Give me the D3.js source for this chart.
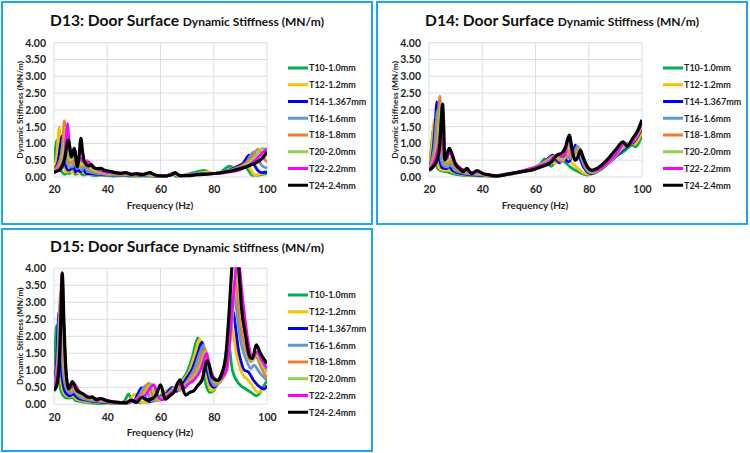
<!DOCTYPE html>
<html>
<head>
<meta charset="utf-8">
<script src="https://cdn.jsdelivr.net/npm/d3@7"></script>
<style>
  body { margin: 0; background: #fff; }
  svg { display: block; font-family: Lato, "Open Sans", sans-serif; }
</style>
</head>
<body>
<script>
const freqTicks = [20, 40, 60, 80, 100];
const stiffTicks = [0, 0.5, 1, 1.5, 2, 2.5, 3, 3.5, 4];
const seriesNames = ["T10-1.0mm", "T12-1.2mm", "T14-1.367mm", "T16-1.6mm", "T18-1.8mm", "T20-2.0mm", "T22-2.2mm", "T24-2.4mm"];
const seriesColors = ["#00B050", "#FFC000", "#0000FF", "#5B9BD5", "#ED7D31", "#92D050", "#FF00FF", "#000000"];

// [frequency Hz, stiffness MN/m]
const d13 = [
  [[20,0.3],[20.5,0.8],[21,1.1],[21.5,0.7],[22,0.3],[23,0.15],[24,0.08],[25,0.12],[26,0.1],[27,0.2],[28,0.08],[29.5,0.12],[31,0.06],[33,0.08],[35,0.04],[38,0.05],[42,0.03],[46,0.04],[50,0.02],[54,0.03],[58,0.01],[62,0.02],[64.5,0.08],[66,0.02],[70,0.08],[73.5,0.15],[76.5,0.2],[79,0.1],[82,0.12],[86,0.32],[88,0.25],[91.5,0.32],[93,0.2],[94.5,0.05],[97,0.06],[100,0.1]],
  [[20,0.25],[21,0.6],[22,1.48],[22.6,0.8],[23.5,0.3],[25,0.15],[26,0.2],[27,0.12],[28,0.25],[29,0.1],[30.5,0.18],[32,0.08],[35,0.07],[38,0.06],[42,0.04],[46,0.05],[50,0.03],[54,0.04],[58,0.02],[62,0.03],[65,0.09],[67,0.03],[71,0.07],[75,0.12],[78,0.15],[80,0.1],[84,0.15],[88,0.3],[92,0.42],[94,0.2],[95.5,0.05],[97,0.08],[100,0.15]],
  [[20,0.2],[21.5,0.45],[22.5,1.0],[23,1.22],[23.6,0.7],[24.5,0.3],[25.5,0.2],[26.5,0.25],[27.3,0.35],[28,0.15],[29,0.22],[30,0.15],[31,0.25],[32,0.1],[35,0.09],[38,0.07],[42,0.05],[46,0.06],[50,0.04],[54,0.05],[58,0.03],[62,0.03],[65.5,0.1],[67.5,0.03],[71,0.06],[75,0.1],[80,0.1],[84,0.15],[88,0.28],[91,0.4],[93.3,0.65],[95,0.4],[96.5,0.2],[98,0.13],[100,0.15]],
  [[20,0.2],[21.5,0.35],[23,0.8],[23.5,1.15],[24.1,0.8],[25,0.4],[26,0.3],[27,0.3],[27.8,0.5],[28.5,0.25],[29.5,0.3],[30.5,0.2],[31.5,0.35],[32.5,0.18],[35,0.12],[38,0.09],[42,0.06],[46,0.07],[50,0.05],[54,0.06],[58,0.03],[62,0.04],[65.5,0.11],[67.5,0.04],[71,0.06],[75,0.09],[80,0.1],[84,0.15],[88,0.25],[92,0.4],[95,0.75],[96.5,0.55],[98,0.35],[99.5,0.28],[100,0.3]],
  [[20,0.2],[22,0.4],[23.3,1.0],[23.9,1.67],[24.5,1.0],[25.3,0.5],[26.3,0.4],[27.3,0.6],[28,0.35],[29,0.4],[30,0.3],[31,0.3],[32,0.45],[33,0.25],[35,0.17],[38,0.12],[42,0.08],[46,0.09],[50,0.06],[54,0.07],[58,0.04],[62,0.04],[65.5,0.12],[67.5,0.04],[71,0.06],[75,0.08],[80,0.1],[85,0.15],[90,0.3],[94,0.55],[96.5,0.82],[98,0.7],[99.3,0.5],[100,0.45]],
  [[20,0.18],[22,0.3],[23.8,0.9],[24.5,1.5],[25,1.0],[25.8,0.55],[26.5,0.5],[27.6,0.7],[28.5,0.45],[29.5,0.5],[30.5,0.4],[31.5,0.38],[32.5,0.5],[33.5,0.3],[35,0.2],[38,0.15],[42,0.1],[46,0.1],[50,0.07],[54,0.08],[58,0.04],[62,0.04],[65.5,0.12],[67.5,0.04],[71,0.06],[75,0.08],[80,0.1],[85,0.14],[90,0.25],[95,0.55],[98.3,0.85],[99.3,0.8],[100,0.7]],
  [[20,0.16],[22,0.25],[24,0.6],[24.6,1.2],[25.1,1.6],[25.6,1.1],[26.3,0.6],[27,0.65],[27.8,0.8],[28.6,0.5],[29.6,0.6],[30.5,0.5],[31.5,0.45],[33,0.45],[34,0.33],[36,0.25],[38,0.18],[42,0.12],[46,0.12],[50,0.08],[54,0.09],[56,0.12],[58,0.05],[62,0.04],[65.5,0.12],[67.5,0.04],[71,0.06],[75,0.08],[80,0.1],[85,0.14],[90,0.22],[95,0.45],[98,0.7],[100,0.85]],
  [[20,0.13],[21,0.17],[22,0.2],[23,0.3],[24,0.55],[25.4,1.1],[26.6,0.6],[27.6,0.85],[28.8,0.3],[29.4,0.6],[30.1,1.15],[30.8,0.7],[31.5,0.45],[33,0.33],[34,0.38],[35,0.28],[36.5,0.25],[37.5,0.26],[39,0.2],[41,0.17],[43,0.13],[45,0.11],[47,0.13],[49,0.08],[51,0.1],[53,0.07],[56,0.13],[58,0.06],[61,0.03],[64,0.06],[65.5,0.13],[67,0.05],[70,0.04],[74,0.07],[78,0.09],[82,0.12],[86,0.17],[90,0.25],[93,0.33],[96,0.43],[98.5,0.58],[100,0.75]]
];

const d14 = [
  [[20,0.3],[20.8,0.8],[21.6,1.4],[22.2,0.7],[23,0.3],[24,0.2],[25.5,0.17],[27,0.15],[28,0.12],[30,0.08],[33,0.05],[36,0.04],[40,0.03],[44,0.02],[48,0.05],[52,0.1],[56,0.18],[60,0.3],[62,0.4],[63.5,0.55],[64.5,0.45],[65.8,0.32],[67.5,0.45],[69.5,0.6],[71,0.45],[73,0.3],[75,0.2],[77,0.12],[79.5,0.06],[82,0.12],[86,0.35],[90,0.6],[93,0.75],[96.5,0.95],[97.5,0.9],[100,1.25]],
  [[20,0.28],[21,0.8],[22,1.7],[22.6,0.9],[23.4,0.35],[24.5,0.22],[26,0.2],[27.5,0.2],[29,0.14],[31,0.1],[34,0.06],[37,0.05],[41,0.03],[45,0.02],[49,0.06],[53,0.12],[57,0.2],[61,0.32],[63,0.42],[65,0.58],[66.3,0.45],[67.5,0.4],[69,0.52],[70.5,0.65],[72,0.5],[74,0.4],[76,0.25],[78,0.12],[80,0.08],[83,0.15],[87,0.4],[91,0.7],[94,0.9],[96,1.0],[97,0.98],[100,1.35]],
  [[20,0.25],[21.5,0.8],[22.5,1.8],[22.9,2.24],[23.4,1.4],[24,0.5],[25,0.27],[26.5,0.25],[27.5,0.3],[29,0.18],[31,0.12],[34,0.08],[37,0.06],[41,0.04],[45,0.03],[49,0.07],[53,0.13],[57,0.21],[61,0.33],[64,0.5],[66.5,0.65],[68,0.5],[69,0.42],[70.5,0.6],[71.5,0.5],[72.5,0.45],[74,0.7],[75,0.95],[76.5,0.6],[78,0.3],[80,0.12],[81,0.1],[84,0.2],[88,0.45],[92,0.75],[95,0.95],[97,1.05],[100,1.45]],
  [[20,0.25],[22,0.9],[23.3,2.0],[23.8,1.3],[24.5,0.55],[25.5,0.33],[27,0.3],[28,0.38],[29.5,0.22],[31.5,0.15],[34,0.1],[37,0.08],[41,0.05],[45,0.03],[49,0.08],[53,0.14],[57,0.22],[61,0.33],[64,0.48],[66.8,0.62],[68.5,0.52],[70,0.45],[71.5,0.65],[73,0.55],[74.5,0.7],[75.7,0.92],[77,0.6],[78.5,0.3],[80.5,0.13],[81.5,0.12],[84,0.22],[88,0.48],[92,0.8],[95,0.98],[97,1.08],[100,1.5]],
  [[20,0.25],[22.5,0.9],[23.6,2.0],[24.1,2.41],[24.6,1.4],[25.3,0.6],[26.3,0.38],[27.3,0.4],[28.3,0.48],[30,0.27],[32,0.18],[34.5,0.13],[37.5,0.1],[41,0.06],[45,0.04],[49,0.08],[53,0.14],[57,0.22],[61,0.33],[64.5,0.5],[67.5,0.62],[69,0.5],[70.5,0.48],[72,0.8],[73.3,0.6],[75,0.7],[76.3,0.88],[77.5,0.6],[79,0.3],[81,0.15],[82,0.15],[85,0.28],[89,0.55],[92.5,0.85],[95,1.0],[97,1.1],[100,1.5]],
  [[20,0.23],[23,0.9],[24.1,1.9],[24.5,2.2],[25,1.3],[25.7,0.6],[26.6,0.45],[27.5,0.5],[28.5,0.58],[30,0.35],[32,0.22],[34.5,0.16],[37.5,0.12],[41,0.07],[45,0.04],[49,0.09],[53,0.14],[57,0.23],[61,0.33],[65,0.5],[68,0.6],[69.5,0.55],[70.5,0.52],[72.3,1.0],[73.6,0.65],[75.5,0.65],[76.5,0.85],[78,0.55],[79.5,0.3],[81.3,0.17],[82.5,0.17],[85.5,0.3],[89.5,0.58],[93,0.9],[95,1.0],[97,1.12],[100,1.55]],
  [[20,0.22],[23.5,0.9],[24.3,1.4],[24.6,1.65],[25.1,1.2],[25.8,0.55],[26.8,0.55],[27.6,0.75],[28.5,0.65],[30,0.42],[32,0.25],[34,0.2],[36,0.13],[38,0.15],[41,0.08],[45,0.04],[49,0.09],[53,0.14],[57,0.22],[61,0.32],[65,0.45],[68.5,0.65],[70.3,0.6],[71,0.65],[72.5,1.2],[74,0.6],[75.5,0.55],[76.8,0.8],[78.3,0.5],[80,0.25],[81.5,0.18],[83,0.2],[86,0.35],[90,0.65],[93.5,1.0],[95,0.95],[97.5,1.2],[100,1.6]],
  [[20,0.2],[21.5,0.3],[23,0.5],[24,0.9],[24.6,1.7],[25.1,2.17],[25.6,1.3],[25.9,0.5],[26.5,0.6],[27.6,0.85],[28.6,0.7],[29.8,0.4],[31.5,0.25],[32.9,0.16],[34.2,0.26],[36,0.1],[38,0.19],[40.4,0.1],[43,0.06],[45.4,0.03],[48,0.06],[50.5,0.1],[55,0.16],[59.2,0.22],[62,0.3],[64.2,0.36],[66,0.45],[68,0.65],[70,0.72],[71.3,0.9],[72.7,1.25],[73.8,0.8],[74.8,0.5],[76,0.6],[76.8,0.8],[77.8,0.6],[79.5,0.3],[81.2,0.2],[83,0.25],[86.8,0.5],[90,0.8],[92.9,1.05],[94.4,0.92],[96.5,1.15],[98.5,1.4],[100,1.7]]
];

const d15 = [
  [[20,0.9],[20.5,1.8],[21,2.31],[21.5,1.4],[22.3,0.5],[23.5,0.25],[25,0.18],[27,0.2],[28,0.12],[30,0.08],[33,0.05],[36,0.03],[40,0.02],[44,0.02],[46.5,0.1],[48,0.3],[49.5,0.08],[52,0.05],[56,0.12],[60,0.25],[62.5,0.4],[64,0.35],[66,0.45],[68,0.7],[70,0.95],[72,1.4],[74,1.95],[75.5,1.3],[77,0.6],[78.5,0.35],[80,0.4],[81.5,0.7],[83.5,1.0],[85.5,1.8],[87,1.0],[89.5,0.6],[92,0.45],[94,0.35],[96,0.25],[97,0.3],[98.5,0.5],[100,0.7]],
  [[20,0.75],[21,1.3],[21.5,1.75],[22,1.3],[22.8,0.6],[24,0.3],[25.5,0.22],[27,0.25],[28.5,0.15],[31,0.1],[34,0.07],[37,0.05],[41,0.03],[45,0.02],[48,0.1],[50.5,0.3],[52,0.08],[55,0.05],[58,0.15],[61,0.28],[63.5,0.45],[65,0.35],[67,0.5],[69,0.75],[71,1.0],[73,1.5],[74.7,1.92],[76.2,1.3],[78,0.6],[79.2,0.4],[82,0.7],[84.5,1.2],[86.2,2.35],[89,1.3],[91,0.85],[92.5,0.75],[94.5,0.55],[96.5,0.35],[98,0.4],[100,0.55]],
  [[20,0.6],[21,1.3],[21.9,2.75],[22.4,1.8],[23,0.8],[24.3,0.35],[26,0.25],[27.2,0.3],[29,0.18],[32,0.12],[35,0.08],[38,0.06],[42,0.04],[46,0.02],[50,0.1],[53,0.49],[54.5,0.15],[56,0.07],[59,0.18],[62,0.3],[64.5,0.5],[66,0.38],[68,0.55],[70,0.8],[72,1.05],[74,1.5],[75.6,1.83],[77,1.2],[78.8,0.6],[80,0.5],[82.5,0.75],[85.5,1.6],[86.9,2.8],[89.5,1.5],[91.5,1.0],[93,0.95],[95,0.7],[97.5,0.5],[99,0.45],[100,0.55]],
  [[20,0.55],[21.3,1.3],[22.3,3.0],[22.8,2.0],[23.5,0.9],[24.8,0.42],[26.3,0.32],[27.3,0.38],[29.5,0.22],[32,0.15],[35,0.1],[38,0.08],[42,0.05],[46,0.03],[51,0.15],[54.5,0.55],[55.8,0.2],[57,0.08],[60,0.2],[63,0.32],[65.5,0.52],[67,0.4],[69,0.58],[71,0.8],[73,1.1],[74.7,1.5],[76.2,1.75],[77.5,1.2],[79.3,0.65],[80.5,0.55],[83.5,0.9],[86,2.0],[87.5,3.2],[90,1.9],[92.5,1.25],[94,1.05],[95,1.15],[97.5,0.9],[100,0.7]],
  [[20,0.5],[21.5,1.3],[22.5,3.3],[23,2.3],[23.8,1.0],[25,0.5],[26.4,0.38],[27.4,0.45],[29.5,0.27],[32,0.18],[35,0.13],[38,0.1],[42,0.06],[46,0.03],[52,0.2],[55.7,0.62],[57,0.22],[58.5,0.1],[61,0.22],[64,0.35],[66,0.55],[67.5,0.42],[69.5,0.6],[72,0.85],[74,1.1],[75.5,1.45],[76.8,1.63],[78,1.2],[79.8,0.7],[81,0.6],[84,0.85],[86.5,2.2],[88,3.65],[90,2.3],[92.5,1.5],[94,1.25],[95.8,1.4],[98,1.05],[100,0.75]],
  [[20,0.45],[21.7,1.4],[22.8,3.6],[23.3,2.5],[24,1.1],[25.2,0.55],[26.5,0.45],[27.5,0.52],[29.5,0.32],[32,0.22],[35,0.16],[38,0.12],[42,0.07],[46,0.04],[53,0.22],[56.5,0.6],[58,0.25],[59.5,0.12],[62,0.25],[64.5,0.38],[66.5,0.6],[68,0.45],[70,0.6],[72.5,0.8],[74.5,1.05],[76,1.35],[77,1.55],[78.3,1.15],[80,0.72],[81,0.65],[84.5,0.9],[87,2.6],[88.6,3.9],[90.5,2.6],[93,1.65],[94.5,1.3],[96.3,1.45],[98,1.2],[100,0.95]],
  [[20,0.42],[22,1.5],[23.1,3.88],[23.6,2.5],[24.3,1.1],[25.5,0.5],[26.6,0.5],[27.5,0.6],[29.5,0.38],[32,0.25],[34.5,0.19],[37.5,0.15],[42,0.08],[46,0.05],[54,0.25],[57.5,0.58],[59,0.25],[60.5,0.13],[63,0.27],[65,0.4],[66.8,0.65],[68.3,0.45],[70.5,0.6],[73,0.75],[75,1.0],[76.3,1.3],[77.3,1.5],[78.5,1.1],[80.3,0.75],[81.3,0.7],[84.8,1.0],[87.2,3.0],[89,4.3],[91,3.0],[93,1.8],[94.5,1.35],[96.3,1.55],[98,1.3],[100,1.05]],
  [[20,0.4],[21,0.55],[22,1.2],[22.6,2.6],[23.1,3.85],[23.7,2.5],[24.5,1.0],[25.5,0.45],[26.9,0.67],[28.5,0.42],[31,0.3],[33,0.2],[34.3,0.22],[36,0.13],[37.5,0.17],[40,0.1],[42,0.07],[45,0.05],[47,0.04],[49,0.12],[51,0.06],[53,0.2],[55,0.13],[57,0.17],[58.5,0.3],[60,0.57],[61.8,0.15],[63.5,0.25],[65,0.35],[67.3,0.72],[69.4,0.27],[71,0.35],[72.5,0.4],[74,0.55],[75.5,0.7],[77.7,1.28],[79.4,0.8],[81.5,0.7],[83,0.9],[84.5,1.4],[85.6,2.5],[86.8,4.0],[88.2,5.0],[89.4,4.0],[90.5,2.8],[92,2.0],[93.5,1.4],[94.5,1.35],[96,1.75],[97.5,1.5],[100,1.2]]
];

const panels = [
  { label: "D13", data: d13, x: 0, y: 0, top: 42.7, bottom: 177, legendTop: 68 },
  { label: "D14", data: d14, x: 375, y: 0, top: 42.7, bottom: 177, legendTop: 68 },
  { label: "D15", data: d15, x: 0, y: 225, top: 43.3, bottom: 179.3, legendTop: 70 }
];

const svg = d3.select("body").append("svg")
  .attr("width", 750)
  .attr("height", 453);

panels.forEach((p, pi) => {
  const g = svg.append("g").attr("transform", `translate(${p.x},${p.y})`);

  g.append("rect")
    .attr("x", 2).attr("y", p.y ? 4 : 2)
    .attr("width", 370).attr("height", 222)
    .attr("fill", "#fff")
    .attr("stroke", "#1EA7EA")
    .attr("stroke-width", 2);

  const x = d3.scaleLinear().domain([20, 100]).range([54, 267]);
  const y = d3.scaleLinear().domain([0, 4]).range([p.bottom, p.top]);

  // title
  const title = g.append("text")
    .attr("x", 187).attr("y", p.top - 16.5)
    .attr("text-anchor", "middle")
    .attr("font-weight", "bold")
    .attr("fill", "#111");
  title.append("tspan").attr("font-size", 15.6).text(p.label + ": Door Surface ");
  title.append("tspan").attr("font-size", 12).text("Dynamic Stiffness (MN/m)");

  // grid
  g.append("g").selectAll("line").data(stiffTicks).enter().append("line")
    .attr("x1", x(20)).attr("x2", x(100))
    .attr("y1", d => y(d)).attr("y2", d => y(d))
    .attr("stroke", "#D9DEE8").attr("stroke-width", 1);
  g.append("g").selectAll("line").data(freqTicks).enter().append("line")
    .attr("x1", d => x(d)).attr("x2", d => x(d))
    .attr("y1", y(0)).attr("y2", y(4))
    .attr("stroke", "#D9DEE8").attr("stroke-width", 1);

  // axes
  const yAxis = g.append("g")
    .attr("transform", `translate(${x(20)},0)`)
    .call(d3.axisLeft(y).tickValues(stiffTicks).tickFormat(d3.format(".2f")).tickSize(0).tickPadding(8));
  const xAxis = g.append("g")
    .attr("transform", `translate(0,${y(0)})`)
    .call(d3.axisBottom(x).tickValues(freqTicks).tickSize(0).tickPadding(9));
  [xAxis, yAxis].forEach(a => {
    a.select(".domain").remove();
    a.selectAll("text")
      .attr("font-family", "Lato, sans-serif")
      .attr("font-size", 10.5)
      .attr("font-weight", "bold")
      .attr("fill", "#262626");
  });

  g.append("text")
    .attr("x", 160).attr("y", p.bottom + 31.5)
    .attr("text-anchor", "middle")
    .attr("font-size", 10)
    .attr("font-weight", "bold")
    .attr("fill", "#262626")
    .text("Frequency (Hz)");

  g.append("text")
    .attr("transform", `translate(23,${(p.top + p.bottom) / 2}) rotate(-90)`)
    .attr("text-anchor", "middle")
    .attr("font-size", 8.3)
    .attr("font-weight", "bold")
    .attr("fill", "#262626")
    .text("Dynamic Stiffness (MN/m)");

  // lines
  g.append("clipPath").attr("id", "clip" + pi)
    .append("rect")
    .attr("x", x(20)).attr("y", y(4) - 1)
    .attr("width", x(100) - x(20)).attr("height", y(0) - y(4) + 3);

  const line = d3.line()
    .x(d => x(d[0]))
    .y(d => y(d[1]))
    .curve(d3.curveMonotoneX);

  g.append("g").attr("clip-path", `url(#clip${pi})`)
    .selectAll("path").data(p.data).enter().append("path")
    .attr("d", line)
    .attr("fill", "none")
    .attr("stroke", (d, i) => seriesColors[i])
    .attr("stroke-width", (d, i) => i === 7 ? 3.2 : 2.8)
    .attr("stroke-linejoin", "round");

  // legend
  const legend = g.append("g");
  const rows = legend.selectAll("g").data(seriesNames).enter().append("g")
    .attr("transform", (d, i) => `translate(288,${p.legendTop + i * 16.75})`);
  rows.append("line")
    .attr("x1", 0).attr("x2", 20)
    .attr("stroke", (d, i) => seriesColors[i])
    .attr("stroke-width", 3);
  rows.append("text")
    .attr("x", 21).attr("y", 3.3)
    .attr("font-size", 9)
    .attr("font-weight", "bold")
    .attr("fill", "#262626")
    .text(d => d);
});
</script>
</body>
</html>
